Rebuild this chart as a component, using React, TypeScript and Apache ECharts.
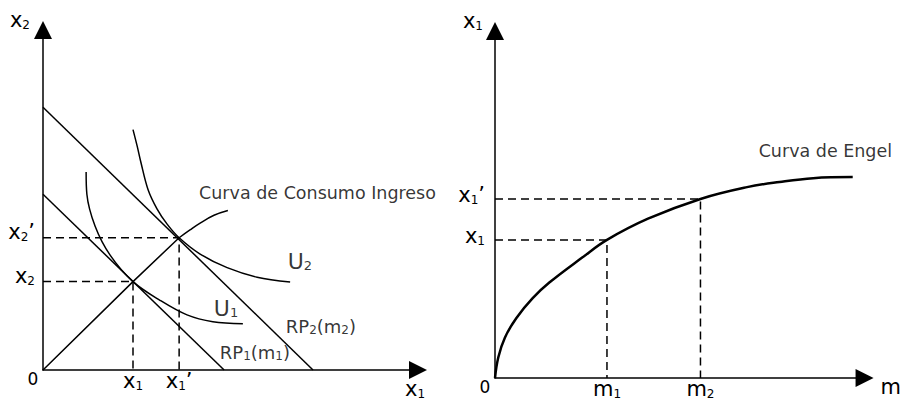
import React, { useEffect, useRef } from "react";
import * as echarts from "echarts";

// ---------- Left panel: Curva de Consumo Ingreso (arbitrary units 0–10) ----------
const leftX1 = 2.4;
const leftX1p = 3.63;
const leftX2 = 2.6;
const leftX2p = 3.89;
const leftXTickValues = [0, leftX1, leftX1p];
const leftXTickLabels = ["0", "x_1", "x_1’"];
const leftYTickValues = [leftX2, leftX2p];
const leftYTickLabels = ["x_2", "x_2’"];
const budget1 = [[0, 5.17], [4.83, 0]];
const budget2 = [[0, 7.73], [7.2, 0]];
const indiff1 = [
  [1.15, 5.82], [1.17, 5.17], [1.39, 4.23], [1.79, 3.38], [2.4, 2.6],
  [3.12, 2.05], [3.84, 1.62], [4.53, 1.42], [5.33, 1.36],
];
const indiff2 = [
  [2.4, 7.07], [2.51, 6.59], [2.61, 6.11], [2.8, 5.31], [3.04, 4.74], [3.31, 4.29],
  [3.63, 3.89], [4.19, 3.41], [4.91, 3.01], [5.71, 2.73], [6.59, 2.59],
];
const iccStraight = [[0, 0], [leftX1, leftX2], [leftX1p, leftX2p]];
const iccCurve = [[3.63, 3.89], [3.92, 4.12], [4.19, 4.32], [4.56, 4.55], [4.93, 4.69]];
const leftNoteTexts = ["Curva de Consumo Ingreso", "U_2", "U_1", "RP_2(m_2)", "RP_1(m_1)"];
const leftNoteAnchors = [[7.32, 5.2], [6.85, 3.2], [4.88, 1.82], [7.41, 1.29], [5.65, 0.52]];
const leftNoteKinds = ["t", "u", "u", "r", "r"];

// ---------- Right panel: Curva de Engel ----------
const m1 = 3.03;
const m2 = 5.56;
const engelX1 = 3.98;
const engelX1p = 5.16;
const rightXTickValues = [0, m1, m2];
const rightXTickLabels = ["0", "m_1", "m_2"];
const rightYTickValues = [engelX1, engelX1p];
const rightYTickLabels = ["x_1", "x_1’"];
const engel = [
  [0, 0], [0.09, 0.6], [0.27, 1.17], [0.58, 1.73], [1.02, 2.3], [1.47, 2.75],
  [2.36, 3.47], [3.03, 3.98], [4.14, 4.59], [5.56, 5.16], [6.82, 5.5],
  [7.7, 5.65], [8.61, 5.76], [9.68, 5.79],
];
const rightNoteTexts = ["Curva de Engel"];
const rightNoteAnchors = [[8.94, 6.53]];
const rightNoteKinds = ["t"];

const FONT = "'DejaVu Sans', sans-serif";
const BLACK = "#000";

const richStyles: any = {
  x: { fontFamily: FONT, fontSize: 21, color: BLACK },
  s: { fontFamily: FONT, fontSize: 12, color: BLACK, verticalAlign: "top", padding: [10, 0, 0, 0] },
  z: { fontFamily: FONT, fontSize: 17, color: BLACK, padding: [0, 20, 0, 0] },
  u: { fontFamily: FONT, fontSize: 22, color: BLACK },
  us: { fontFamily: FONT, fontSize: 13, color: BLACK, verticalAlign: "top", padding: [9, 0, 0, 0] },
  r: { fontFamily: FONT, fontSize: 18, color: BLACK },
  rs: { fontFamily: FONT, fontSize: 12, color: BLACK, verticalAlign: "top", padding: [7, 0, 0, 0] },
  t: { fontFamily: FONT, fontSize: 17.5, color: BLACK },
};

function toRich(label: string, main: string) {
  if (label === "0") return "{z|0}";
  const sub = main === "x" ? "s" : main + "s";
  return label
    .split(/(_\w)/)
    .filter((p) => p.length > 0)
    .map((p) => (p.startsWith("_") ? `{${sub}|${p.slice(1)}}` : `{${main}|${p}}`))
    .join("");
}

function labelFor(values: number[], labels: string[]) {
  return (v: number) => {
    let best = 0;
    for (let i = 1; i < values.length; i++) {
      if (Math.abs(values[i] - v) < Math.abs(values[best] - v)) best = i;
    }
    return toRich(labels[best], "x");
  };
}

const lineStyle = { color: BLACK, width: 1.5 };
const dashStyle = { color: BLACK, width: 1.5, type: [8, 5] as any };

function axis(extra: any) {
  return {
    type: "value",
    min: 0,
    max: 10,
    splitLine: { show: false },
    axisTick: { show: false },
    nameMoveOverlap: false,
    axisLine: {
      show: true,
      onZero: false,
      symbol: ["none", "triangle"],
      symbolSize: [18, 18],
      lineStyle: { color: BLACK, width: 1.5 },
    },
    ...extra,
  };
}

function lineSeries(data: number[][], idx: number, style: any, smooth: number | boolean = false) {
  return {
    type: "line",
    xAxisIndex: idx,
    yAxisIndex: idx,
    data,
    smooth,
    symbol: "none",
    lineStyle: style,
    silent: true,
    z: 3,
  };
}

function notes(texts: string[], anchors: number[][], kinds: string[], idx: number) {
  return {
    type: "scatter",
    xAxisIndex: idx,
    yAxisIndex: idx,
    symbolSize: 0,
    silent: true,
    data: texts.map((t, i) => ({
      value: anchors[i],
      label: {
        show: true,
        position: "inside",
        formatter: toRich(t, kinds[i]),
        rich: richStyles,
      },
    })),
  };
}

export default function App() {
  const ref = useRef<HTMLDivElement>(null);
  useEffect(() => {
    const chart = echarts.init(ref.current!, null, { renderer: "svg" });
    const option: any = {
      animation: false,
      backgroundColor: "#fff",
      textStyle: { fontFamily: FONT, color: BLACK },
      grid: [
        { left: 43, top: 30, width: 375, height: 352 },
        { left: 495, top: 31, width: 374, height: 349 },
      ],
      xAxis: [
        axis({
          gridIndex: 0,
          name: toRich("x_1", "x"),
          nameLocation: "end",
          nameGap: -3,
          nameTextStyle: { rich: richStyles, align: "center", verticalAlign: "top", padding: [8, 0, 0, 0] },
          axisLabel: {
            customValues: leftXTickValues,
            formatter: labelFor(leftXTickValues, leftXTickLabels),
            rich: richStyles,
            margin: 0,
            verticalAlign: "top",
          },
        }),
        axis({
          gridIndex: 1,
          name: "{x|m}",
          nameLocation: "end",
          nameGap: 16,
          nameTextStyle: { rich: richStyles, align: "left", verticalAlign: "middle", padding: [18, 0, 0, 0] },
          axisLabel: {
            customValues: rightXTickValues,
            formatter: labelFor(rightXTickValues, rightXTickLabels),
            rich: richStyles,
            margin: 0,
            verticalAlign: "top",
          },
        }),
      ],
      yAxis: [
        axis({
          gridIndex: 0,
          name: toRich("x_2", "x"),
          nameLocation: "end",
          nameGap: 10,
          nameTextStyle: { rich: richStyles, align: "right", verticalAlign: "middle", padding: [0, 13, 0, 0] },
          axisLabel: {
            customValues: leftYTickValues,
            formatter: labelFor(leftYTickValues, leftYTickLabels),
            rich: richStyles,
            margin: 8,
            padding: [0, 0, 12, 0],
          },
        }),
        axis({
          gridIndex: 1,
          name: toRich("x_1", "x"),
          nameLocation: "end",
          nameGap: 10,
          nameTextStyle: { rich: richStyles, align: "right", verticalAlign: "middle", padding: [0, 12, 0, 0] },
          axisLabel: {
            customValues: rightYTickValues,
            formatter: labelFor(rightYTickValues, rightYTickLabels),
            rich: richStyles,
            margin: 10,
            padding: [0, 0, 7, 0],
          },
        }),
      ],
      series: [
        lineSeries(budget1, 0, lineStyle),
        lineSeries(budget2, 0, lineStyle),
        lineSeries(indiff1, 0, lineStyle, 0.35),
        lineSeries(indiff2, 0, lineStyle, 0.35),
        lineSeries(iccStraight, 0, lineStyle),
        lineSeries(iccCurve, 0, lineStyle, 0.4),
        lineSeries([[0, leftX2p], [leftX1p, leftX2p], [leftX1p, 0]], 0, dashStyle),
        lineSeries([[0, leftX2], [leftX1, leftX2], [leftX1, 0]], 0, dashStyle),
        notes(leftNoteTexts, leftNoteAnchors, leftNoteKinds, 0),
        lineSeries(engel, 1, { color: BLACK, width: 2.5 }, 0.4),
        lineSeries([[0, engelX1], [m1, engelX1], [m1, 0]], 1, dashStyle),
        lineSeries([[0, engelX1p], [m2, engelX1p], [m2, 0]], 1, dashStyle),
        notes(rightNoteTexts, rightNoteAnchors, rightNoteKinds, 1),
      ],
    };
    chart.setOption(option);
    return () => chart.dispose();
  }, []);
  return <div ref={ref} style={{ position: "fixed", left: 0, top: 0, width: 904, height: 400 }} />;
}
